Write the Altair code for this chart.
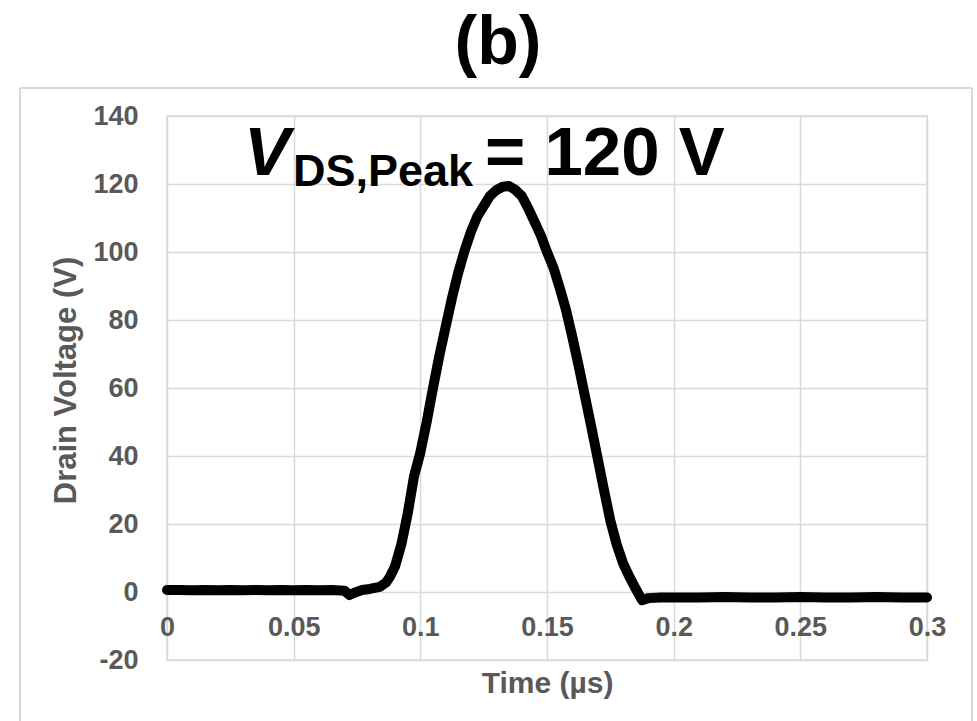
import altair as alt
import pandas as pd

# ---- data ----
time_us = [0.000, 0.005, 0.010, 0.015, 0.020, 0.025, 0.030, 0.035, 0.040, 0.045,
           0.050, 0.055, 0.060, 0.065, 0.070, 0.072, 0.074, 0.077, 0.080, 0.084,
           0.0865, 0.088, 0.090, 0.0925, 0.095, 0.0975, 0.100, 0.1025, 0.105, 0.1075,
           0.110, 0.1125, 0.115, 0.1175, 0.120, 0.1225, 0.125, 0.1275, 0.130, 0.1325,
           0.135, 0.1375, 0.140, 0.1425, 0.145, 0.1475, 0.150, 0.1525, 0.155, 0.1575,
           0.160, 0.1625, 0.165, 0.1675, 0.170, 0.1725, 0.175, 0.1775, 0.180, 0.1825,
           0.185, 0.1875, 0.190, 0.195, 0.200, 0.210, 0.220, 0.230, 0.240, 0.250,
           0.260, 0.270, 0.280, 0.290, 0.300]
drain_v = [0.6, 0.6, 0.5, 0.6, 0.5, 0.6, 0.5, 0.6, 0.5, 0.6,
           0.5, 0.6, 0.5, 0.6, 0.4, -0.9, -0.2, 0.6, 0.9, 1.5,
           2.8, 4.5, 7.5, 14.0, 23.0, 34.0, 41.0, 50.0, 60.0, 69.5,
           78.0, 86.5, 94.0, 100.5, 106.0, 110.5, 113.5, 116.5, 118.2, 119.2,
           119.4, 118.3, 116.5, 113.0, 109.0, 105.0, 100.0, 95.5, 89.5, 83.0,
           75.0, 66.5, 57.5, 48.5, 39.3, 30.0, 21.0, 14.0, 8.5, 4.5,
           1.0, -2.4, -1.8, -1.6, -1.6, -1.6, -1.5, -1.6, -1.6, -1.5,
           -1.6, -1.6, -1.5, -1.6, -1.6]
x_ticks = [0, 0.05, 0.1, 0.15, 0.2, 0.25, 0.3]
y_ticks = [-20, 0, 20, 40, 60, 80, 100, 120, 140]

df = pd.DataFrame({"t": time_us, "v": drain_v})

FONT = "Liberation Sans"
GRAY = "#595959"
GRID = "#d9d9d9"

line = alt.Chart(df).mark_line(
    color="black", strokeWidth=10, strokeCap="round", strokeJoin="round"
).encode(
    x=alt.X("t:Q",
            scale=alt.Scale(domain=[0, 0.3], nice=False, zero=False),
            axis=alt.Axis(values=x_ticks, format="~g", title="Time (µs)",
                          offset=-68, ticks=False, domain=False,
                          grid=True, gridColor=GRID, gridWidth=1.5,
                          labelFont=FONT, labelFontSize=27, labelFontWeight="bold",
                          labelColor=GRAY, labelPadding=22, labelFlush=False,
                          titleFont=FONT, titleFontSize=30, titleFontWeight="bold",
                          titleColor=GRAY, titleY=100, titleBaseline="alphabetic")),
    y=alt.Y("v:Q",
            scale=alt.Scale(domain=[-20, 140], nice=False, zero=False),
            axis=alt.Axis(values=y_ticks, title="Drain Voltage (V)",
                          labelExpr="'' + datum.value",
                          ticks=False, domain=False,
                          grid=True, gridColor=GRID, gridWidth=1.5,
                          labelFont=FONT, labelFontSize=27, labelFontWeight="bold",
                          labelColor=GRAY, labelPadding=29,
                          titleFont=FONT, titleFontSize=31, titleFontWeight="bold",
                          titleColor=GRAY, titleX=-92, titleY=264,
                          titleAngle=270, titleBaseline="alphabetic")),
)

one = alt.Data(values=[{"a": 1}])

title_txt = alt.Chart(one).mark_text(
    text="(b)", font=FONT, fontSize=68, fontWeight="bold",
    align="center", baseline="alphabetic", color="black"
).encode(x=alt.value(331), y=alt.value(-52))

v_txt = alt.Chart(one).mark_text(
    text="V", font=FONT, fontSize=69, fontWeight="bold", fontStyle="italic",
    align="left", baseline="alphabetic", color="black"
).encode(x=alt.value(77), y=alt.value(59))

sub_txt = alt.Chart(one).mark_text(
    text="DS,Peak", font=FONT, fontSize=45, fontWeight="bold",
    align="left", baseline="alphabetic", color="black"
).encode(x=alt.value(126), y=alt.value(70))

eq_txt = alt.Chart(one).mark_text(
    text="= 120 V", font=FONT, fontSize=69, fontWeight="bold",
    align="left", baseline="alphabetic", color="black"
).encode(x=alt.value(318), y=alt.value(59))

# outer light frame around the figure
frame_style = dict(color=GRID, strokeWidth=2)
f_left = alt.Chart(one).mark_rule(**frame_style).encode(
    x=alt.value(-147), y=alt.value(-28), y2=alt.value(620))
f_right = alt.Chart(one).mark_rule(**frame_style).encode(
    x=alt.value(805), y=alt.value(-28), y2=alt.value(620))
f_top = alt.Chart(one).mark_rule(**frame_style).encode(
    y=alt.value(-28), x=alt.value(-147), x2=alt.value(805))

chart = alt.layer(
    f_left, f_right, f_top, line, title_txt, v_txt, sub_txt, eq_txt
).properties(
    width=760, height=544,
    autosize=alt.AutoSizeParams(type="none"),
    padding={"left": 167, "top": 116, "right": 50, "bottom": 61},
).configure_view(stroke=GRID, strokeWidth=1.5)

chart.save("out.html", embed_options={"renderer": "svg", "actions": False})
